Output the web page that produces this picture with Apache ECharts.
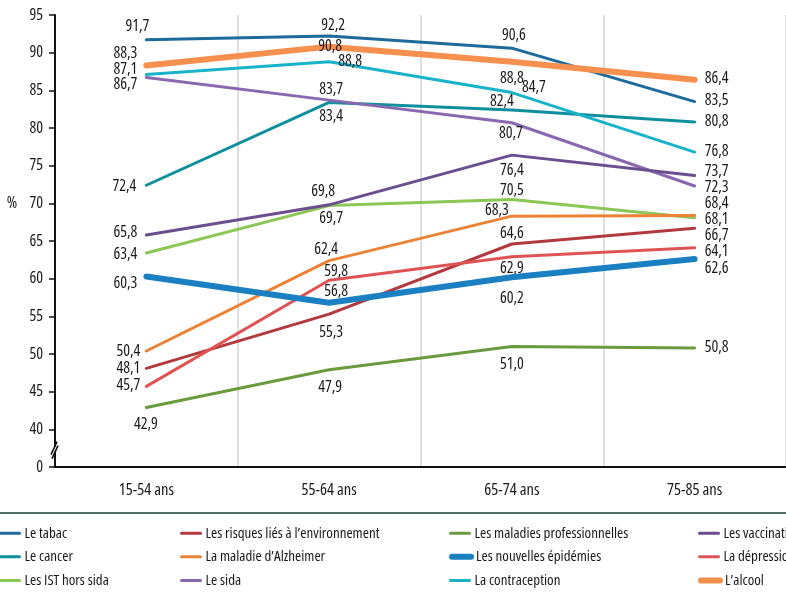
<!DOCTYPE html>
<html>
<head>
<meta charset="utf-8">
<script src="https://cdn.jsdelivr.net/npm/echarts@6/dist/echarts.min.js"></script>
<style>
html,body{margin:0;padding:0;background:#fff;}
#chart{width:786px;height:593px;}
</style>
</head>
<body>
<div id="chart"></div>
<script>
// ---- Data ----
const categories = ['15-54 ans', '55-64 ans', '65-74 ans', '75-85 ans'];
const yAxisMin = 35;   // displayed as "0" (axis break)
const yAxisMax = 95;
const yAxisStep = 5;

const seriesNames = [
  'Le tabac', 'Le cancer', 'Les IST hors sida',
  'Les risques liés à l\u2019environnement', 'La maladie d\u2019Alzheimer', 'Le sida',
  'Les maladies professionnelles', 'La contraception',
  'Les vaccinations', 'La dépression',
  'Les nouvelles épidémies', 'L\u2019alcool'
];
const tabac          = [91.7, 92.2, 90.6, 83.5];
const cancer         = [72.4, 83.4, 82.4, 80.8];
const istHorsSida    = [63.4, 69.7, 70.5, 68.1];
const risquesEnv     = [48.1, 55.3, 64.6, 66.7];
const alzheimer      = [50.4, 62.4, 68.3, 68.4];
const sida           = [86.7, 83.7, 80.7, 72.3];
const maladiesPro    = [42.9, 47.9, 51.0, 50.8];
const contraception  = [87.1, 88.8, 84.7, 76.8];
const vaccinations   = [65.8, 69.8, 76.4, 73.7];
const depression     = [45.7, 59.8, 62.9, 64.1];
const epidemies      = [60.3, 56.8, 60.2, 62.6];
const alcool         = [88.3, 90.8, 88.8, 86.4];

const seriesValues = [tabac, cancer, istHorsSida, risquesEnv, alzheimer, sida,
  maladiesPro, contraception, vaccinations, depression, epidemies, alcool];

// ---- Styles (colours, widths, label placement) ----
const seriesColors = ['#1d6a9b', '#0f8f9e', '#8cc654', '#b23a3f', '#ec8236', '#8a68b0',
  '#6a9a3e', '#17b3cb', '#6a4e8e', '#e05355', '#1b80c1', '#f78f4f'];
const seriesWidths = [3, 3, 3, 3, 3, 3, 3, 3, 3, 3, 6, 6];
// [align, dx, dy] per point
const labelPlacement = [
  [['right', 3, -13], ['center', 4, -11], ['center', 2, -13], ['left', 10, -1]],
  [['right', -10, 1], ['center', 2, 14], ['right', 2, -8], ['left', 10, -1]],
  [['right', -9, 1], ['center', 2, 13], ['center', 0, -9], ['left', 10, 1.5]],
  [['right', -6, 0], ['center', 2, 18], ['center', 0, -11], ['left', 10, 7]],
  [['right', -6, 0], ['center', -3, -11], ['right', -3, -6], ['left', 10, -12]],
  [['right', -9, 7], ['center', 2, -11], ['center', -1, 10.5], ['left', 10, 1]],
  [['center', -0.5, 17], ['center', 1, 18], ['center', 0, 18], ['left', 10, -1]],
  [['right', -9, -5.5], ['left', 9, 0], ['left', 10, -5], ['left', 10, -0.5]],
  [['right', -9, -3], ['center', -6, -13], ['center', 0, 15], ['left', 10, -4]],
  [['right', -6, -1], ['center', 7, -9], ['center', 0, 11.5], ['left', 10, 3.5]],
  [['right', -9, 7], ['center', 7, -11], ['center', 0, 21], ['left', 10, 9]],
  [['right', -9, -12], ['center', 1, 0], ['center', 0, 16.6], ['left', 10, -1]]
];
const legendColumns = [
  ['Le tabac', 'Le cancer', 'Les IST hors sida'],
  ['Les risques liés à l\u2019environnement', 'La maladie d\u2019Alzheimer', 'Le sida'],
  ['Les maladies professionnelles', 'Les nouvelles épidémies', 'La contraception'],
  ['Les vaccinations', 'La dépression', 'L\u2019alcool']
];
const legendLefts = [-1, 180, 449, 698];
const legendRowCenters = [533.3, 556.7, 580.5];

const FONT = '"Open Sans", "Roboto Condensed", sans-serif';
const STRETCH = 'condensed';
const fmt = v => v.toFixed(1).replace('.', ',');

const series = seriesNames.map((name, i) => ({
  name: name,
  type: 'line',
  symbol: 'circle',
  symbolSize: 1,
  showSymbol: true,
  silent: true,
  itemStyle: { color: 'transparent' },
  lineStyle: { color: seriesColors[i], width: seriesWidths[i], cap: 'round', join: 'round' },
  emphasis: { disabled: true },
  z: seriesWidths[i] > 3 ? 3 : 2,
  label: {
    show: true,
    color: '#1a1a1a',
    fontFamily: FONT,
    fontStyle: STRETCH,
    fontSize: 16,
    formatter: p => fmt(p.value)
  },
  data: seriesValues[i].map((v, j) => {
    const lp = labelPlacement[i][j];
    return {
      value: v,
      label: { position: 'inside', align: lp[0], verticalAlign: 'middle', offset: [lp[1], lp[2]] }
    };
  })
}));

const legends = [];
legendColumns.forEach((col, k) => {
  col.forEach((name, r) => {
    const si = seriesNames.indexOf(name);
    legends.push({
      orient: 'horizontal',
      left: legendLefts[k],
      top: legendRowCenters[r] - 8,
      padding: 0,
      data: [name],
      itemWidth: 19,
      itemHeight: 16,
      selectedMode: false,
      lineStyle: { width: seriesWidths[si] === 3 ? 3 : 6, cap: 'round' },
      textStyle: { fontFamily: FONT, fontStyle: STRETCH, fontSize: 15, color: '#1a1a1a', lineHeight: 16 }
    });
  });
});

const chart = echarts.init(document.getElementById('chart'), null, { renderer: 'canvas' });
const GRID_LEFT = 55;
chart.setOption({
  animation: false,
  backgroundColor: '#ffffff',
  grid: { left: GRID_LEFT, top: 15, width: 735, height: 452, containLabel: false },
  legend: legends,
  xAxis: {
    type: 'category',
    data: categories,
    boundaryGap: true,
    axisLine: { lineStyle: { color: '#111', width: 2 } },
    axisTick: { show: false },
    axisLabel: { fontFamily: FONT, fontStyle: STRETCH, fontSize: 16.5, color: '#1a1a1a', margin: 15 },
    splitLine: { show: true, interval: 0, lineStyle: { color: '#d4d4d4', width: 1.5 } }
  },
  yAxis: {
    type: 'value',
    min: yAxisMin,
    max: yAxisMax,
    interval: yAxisStep,
    axisLine: { show: true, lineStyle: { color: '#111', width: 2 } },
    axisTick: { show: true, length: 6, lineStyle: { color: '#111', width: 1.5 } },
    axisLabel: {
      fontFamily: FONT, fontStyle: STRETCH, fontSize: 16, color: '#1a1a1a', margin: 12,
      formatter: v => (v === yAxisMin ? '0' : String(v))
    },
    splitLine: { show: false }
  },
  series: series
});

// decorations: axis break, "%" unit, legend separator
const yBreak = chart.convertToPixel({ yAxisIndex: 0 }, 37.3);
const yPct = chart.convertToPixel({ yAxisIndex: 0 }, 70);
chart.setOption({
  graphic: [
    { type: 'rect', shape: { x: GRID_LEFT - 4, y: yBreak - 3, width: 8, height: 5 }, style: { fill: '#fff' }, z: 100 },
    { type: 'line', shape: { x1: GRID_LEFT - 4, y1: yBreak + 5, x2: GRID_LEFT + 2, y2: yBreak - 8 }, style: { stroke: '#111', lineWidth: 1.6 }, z: 101 },
    { type: 'line', shape: { x1: GRID_LEFT - 3, y1: yBreak + 9, x2: GRID_LEFT + 3, y2: yBreak - 4 }, style: { stroke: '#111', lineWidth: 1.6 }, z: 101 },
    { type: 'text', x: 12, y: yPct, style: { text: '%', font: STRETCH + ' 16px ' + FONT, fill: '#1a1a1a', textAlign: 'center', textVerticalAlign: 'middle' }, z: 100 },
    { type: 'line', shape: { x1: 0, y1: 513, x2: 786, y2: 513 }, style: { stroke: '#4f6e68', lineWidth: 2 }, z: 100 }
  ]
});
</script>
</body>
</html>
